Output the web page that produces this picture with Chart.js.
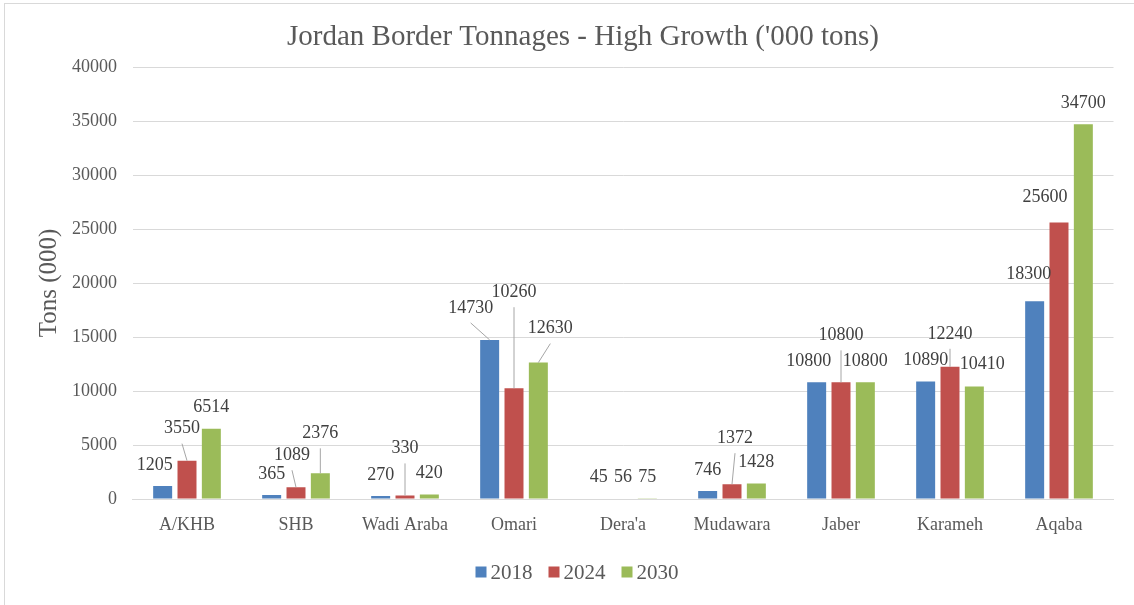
<!DOCTYPE html>
<html>
<head>
<meta charset="utf-8">
<title>Jordan Border Tonnages</title>
<script src="https://cdn.jsdelivr.net/npm/chart.js@4"></script>
<style>
  html, body { margin: 0; padding: 0; background: #fff; }
  canvas { display: block; }
</style>
</head>
<body>
<canvas id="chart" width="1134" height="605"></canvas>
<script>
const categories = ['A/KHB', 'SHB', 'Wadi Araba', 'Omari', "Dera'a", 'Mudawara', 'Jaber', 'Karameh', 'Aqaba'];
const seriesNames = ['2018', '2024', '2030'];
const values2018 = [1205, 365, 270, 14730, 45, 746, 10800, 10890, 18300];
const values2024 = [3550, 1089, 330, 10260, 56, 1372, 10800, 12240, 25600];
const values2030 = [6514, 2376, 420, 12630, 75, 1428, 10800, 10410, 34700];
const yMin = 0, yMax = 40000, yStep = 5000;

const colors = ['#4F81BD', '#C0504D', '#9BBB59'];
const serif = "'Liberation Serif', 'Times New Roman', serif";
const textGray = '#595959';

// hand-placed data labels: [dx, dy, leader line] relative to the default spot above the bar
const labelNudge = [
    [[-8, 0], null, null, [-19, -11, true], null, null, [-8, 0], null, [-6, -6]],
    [[-5, -11, true], [-4, -11, true], [0, -26, true], [0, -75, true], null, [3, -25, true], [0, -26, true], [0, -12, true], [-14, -4]],
    [null, [0, -19, true], null, [12, -13, true], null, null, null, [8, -1], null]
];

const frame = {
    id: 'frame',
    beforeDraw(chart) {
        const c = chart.ctx;
        c.save();
        c.fillStyle = '#fff';
        c.fillRect(0, 0, chart.width, chart.height);
        c.strokeStyle = '#d9d9d9';
        c.lineWidth = 1;
        c.strokeRect(4.5, 3.5, chart.width + 20, chart.height + 20);
        c.restore();
    },
    afterDraw(chart) {
        const c = chart.ctx;
        c.save();
        // title
        c.fillStyle = textGray;
        c.font = '29px ' + serif;
        c.textAlign = 'center';
        c.textBaseline = 'middle';
        c.fillText("Jordan Border Tonnages - High Growth ('000 tons)", 583, 37);

        // legend
        c.font = '21px ' + serif;
        c.textAlign = 'left';
        const box = 11, gap = 4, spacing = 16;
        const widths = seriesNames.map(n => c.measureText(n).width);
        const total = widths.reduce((a, w) => a + box + gap + w, 0) + spacing * (seriesNames.length - 1);
        let x = 577 - total / 2;
        const y = 572;
        seriesNames.forEach((n, i) => {
            c.fillStyle = colors[i];
            c.fillRect(x, y - box / 2, box, box);
            c.fillStyle = textGray;
            c.fillText(n, x + box + gap, y + 1);
            x += box + gap + widths[i] + spacing;
        });
        c.restore();
    }
};

const dataLabels = {
    id: 'dataLabels',
    afterDatasetsDraw(chart) {
        const c = chart.ctx;
        c.save();
        c.font = '18px ' + serif;
        c.textAlign = 'center';
        c.textBaseline = 'middle';
        chart.data.datasets.forEach((ds, di) => {
            const meta = chart.getDatasetMeta(di);
            meta.data.forEach((bar, i) => {
                const nudge = labelNudge[di][i] || [0, 0, false];
                const lx = bar.x + nudge[0];
                const ly = bar.y - 21 + nudge[1];
                if (nudge[2]) {
                    c.strokeStyle = '#a6a6a6';
                    c.lineWidth = 1;
                    c.beginPath();
                    c.moveTo(lx, ly + 15);
                    c.lineTo(bar.x, bar.y);
                    c.stroke();
                }
                c.fillStyle = '#404040';
                c.fillText(String(ds.data[i]), lx, ly);
            });
        });
        c.restore();
    }
};

new Chart(document.getElementById('chart'), {
    type: 'bar',
    data: {
        labels: categories,
        datasets: [values2018, values2024, values2030].map((vals, i) => ({
            label: seriesNames[i],
            data: vals,
            backgroundColor: colors[i],
            categoryPercentage: 0.67,
            barPercentage: 0.78
        }))
    },
    options: {
        responsive: false,
        animation: false,
        layout: { padding: { left: 10, right: 20.5, top: 67, bottom: 66 } },
        plugins: {
            legend: { display: false },
            title: { display: false },
            tooltip: { enabled: false }
        },
        scales: {
            x: {
                grid: { display: false },
                border: { display: true, color: '#d9d9d9' },
                ticks: { color: textGray, font: { family: serif, size: 18 }, padding: 7 },
                afterFit(scale) { scale.height = 40; }
            },
            y: {
                min: yMin,
                max: yMax,
                grid: { color: '#d9d9d9', drawTicks: false },
                border: { display: false },
                ticks: {
                    stepSize: yStep,
                    color: textGray,
                    font: { family: serif, size: 18 },
                    padding: 15.5,
                    callback: v => String(v)
                },
                title: {
                    display: true,
                    text: 'Tons (000)',
                    color: textGray,
                    font: { family: serif, size: 25 },
                    padding: { top: 24, bottom: 0 }
                },
                afterFit(scale) { scale.width = 122.5; }
            }
        }
    },
    plugins: [frame, dataLabels]
});
</script>
</body>
</html>
